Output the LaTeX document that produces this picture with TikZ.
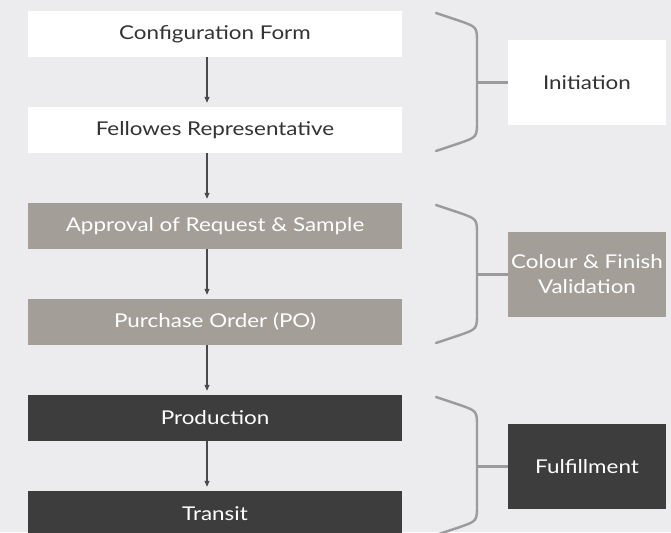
\documentclass[tikz,border=0pt]{standalone}
\usepackage{fontspec}
\setmainfont{Lato}[FakeStretch=1.18]
\usetikzlibrary{arrows.meta,calc}
\definecolor{bgc}{HTML}{ECECEE}
\definecolor{midc}{HTML}{A39F98}
\definecolor{darkc}{HTML}{3D3D3D}
\definecolor{bracec}{HTML}{9A9B9D}
\definecolor{arrc}{HTML}{4A4A4A}
\definecolor{txtc}{HTML}{333333}
\tikzset{
  stepbox/.style={minimum width=374pt,minimum height=46pt,inner sep=0pt,font=\fontsize{19}{22}\selectfont},
  phasebox/.style={minimum width=158pt,minimum height=85pt,inner sep=0pt,align=center,font=\fontsize{19}{25}\selectfont},
  lightbox/.style={fill=white,text=txtc},
  greybox/.style={fill=midc,text=white},
  blackbox/.style={fill=darkc,text=white},
  arr/.style={draw=arrc,line width=1.1pt,-{Triangle[length=6pt,width=5pt]},shorten >=4pt},
  bracestyle/.style={draw=bracec,line width=2.4pt,line cap=round}
}
\begin{document}
\begin{tikzpicture}[x=1pt,y=-1pt]
\fill[bgc] (0,0) rectangle (671,532);
\useasboundingbox (0,0) rectangle (671,532);
\node[stepbox,lightbox] (b1) at (215,34) {Configuration Form};
\node[stepbox,lightbox] (b2) at (215,130) {Fellowes Representative};
\node[stepbox,greybox] (b3) at (215,226) {Approval of Request \& Sample};
\node[stepbox,greybox] (b4) at (215,322) {Purchase Order (PO)};
\node[stepbox,blackbox] (b5) at (215,418) {Production};
\node[stepbox,blackbox] (b6) at (215,514) {Transit};
\node[phasebox,lightbox] (r1) at (587,82.5) {Initiation};
\node[phasebox,greybox] (r2) at (587,274.5) {Colour \& Finish\\Validation};
\node[phasebox,blackbox] (r3) at (587,466.5) {Fulfillment};
\coordinate (ax) at (207,0);
\foreach \a/\b in {b1/b2,b2/b3,b3/b4,b4/b5,b5/b6}
  \draw[arr] (\a.south -| ax) -- (\b.north -| ax);
\coordinate (bx) at (477,0);
\foreach \t/\bt/\r in {13/151/r1,205/343/r2,397/535/r3}{
  \draw[bracestyle] (436,\t) -- (460,\t+8) .. controls (477,\t+14) .. (477,\t+30)
     -- (477,\bt-30) .. controls (477,\bt-14) .. (460,\bt-8) -- (436,\bt);
  \draw[bracestyle,line cap=butt] (\r.west) -- (\r.west -| bx);
}
\end{tikzpicture}
\end{document}
